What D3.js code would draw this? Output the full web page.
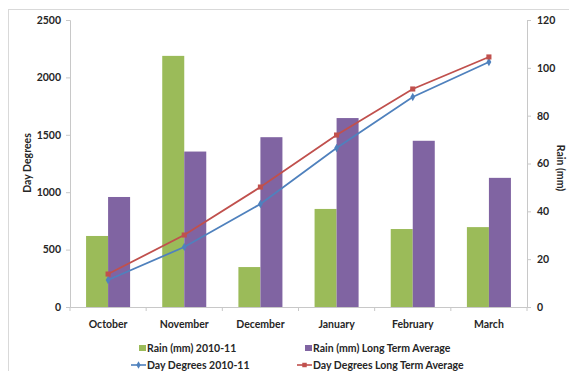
<!DOCTYPE html>
<html>
<head>
<meta charset="utf-8">
<script src="https://cdn.jsdelivr.net/npm/d3@7"></script>
<style>
  html, body { margin: 0; padding: 0; background: #fff; overflow: hidden; }
  svg { display: block; }
  text { font-family: Lato, "Open Sans", sans-serif; font-weight: bold; fill: #262626; }
</style>
</head>
<body>
<svg id="chart" width="569" height="371"></svg>
<script>
const categories = ["October", "November", "December", "January", "February", "March"];
const rain2010 = [29.7, 105, 16.7, 41, 32.6, 33.4];
const rainLTA = [46, 65, 71, 79, 69.5, 54];
const dd2010 = [235, 523, 897, 1385, 1829, 2134];
const ddLTA = [287, 627, 1045, 1498, 1899, 2178];
const leftTicks = [0, 500, 1000, 1500, 2000, 2500];
const rightTicks = [0, 20, 40, 60, 80, 100, 120];
const seriesNames = ["Rain (mm) 2010-11", "Rain (mm) Long Term Average", "Day Degrees 2010-11", "Day Degrees Long Term Average"];
const colors = ["#9BBB59", "#8064A2", "#4F81BD", "#C0504D"];

const svg = d3.select("#chart");
const m = { left: 70, right: 527, top: 20, bottom: 307 };
const axisColor = "#c8c8c8";

// chart border
svg.append("rect").attr("x", 8.5).attr("y", 9.5).attr("width", 700).attr("height", 500)
  .attr("fill", "none").attr("stroke", "#d9d9d9");

const x0 = d3.scaleBand().domain(categories).range([m.left, m.right]).padding(0);
const x1 = d3.scaleBand().domain([0, 1]).range([0, x0.bandwidth()]).paddingInner(0).paddingOuter(0.73);
const yL = d3.scaleLinear().domain([0, 2500]).range([m.bottom, m.top]);
const yR = d3.scaleLinear().domain([0, 120]).range([m.bottom, m.top]);

// bars
const barSeries = [rain2010, rainLTA];
barSeries.forEach((vals, si) => {
  svg.append("g").selectAll("rect").data(vals).join("rect")
    .attr("x", (d, i) => x0(categories[i]) + x1(si))
    .attr("width", x1.bandwidth())
    .attr("y", d => yR(d))
    .attr("height", d => m.bottom - yR(d))
    .attr("fill", colors[si]);
});

// axes
const gL = svg.append("g").attr("transform", `translate(${m.left},0)`)
  .call(d3.axisLeft(yL).tickValues(leftTicks).tickSize(4).tickPadding(5).tickFormat(d3.format("d")));
const gR = svg.append("g").attr("transform", `translate(${m.right},0)`)
  .call(d3.axisRight(yR).tickValues(rightTicks).tickSize(4).tickPadding(6).tickFormat(d3.format("d")));
const gB = svg.append("g").attr("transform", `translate(0,${m.bottom})`)
  .call(d3.axisBottom(x0).tickSize(0).tickPadding(14));
// boundary ticks on category axis
const bounds = categories.map(c => x0(c)).concat([x0.range()[1]]);
svg.append("g").selectAll("line").data(bounds).join("line")
  .attr("x1", d => d).attr("x2", d => d).attr("y1", m.bottom).attr("y2", m.bottom + 4)
  .attr("stroke", axisColor);

[gL, gR, gB].forEach(g => {
  g.select(".domain").attr("stroke", axisColor);
  g.selectAll(".tick line").attr("stroke", axisColor);
  g.selectAll("text").attr("font-size", 10.5).attr("fill", "#262626")
    .attr("font-family", "Lato, sans-serif").attr("font-weight", "bold");
});

// lines
const lineGen = d3.line().x((d, i) => x0(categories[i]) + x0.bandwidth() / 2).y(d => yL(d));
const lineSeries = [dd2010, ddLTA];
lineSeries.forEach((vals, si) => {
  const c = colors[si + 2];
  svg.append("path").datum(vals).attr("d", lineGen)
    .attr("fill", "none").attr("stroke", c).attr("stroke-width", 1.8);
  const sym = si === 0 ? d3.symbolDiamond : d3.symbolSquare;
  const sz = si === 0 ? 20 : 26;
  svg.append("g").selectAll("path").data(vals).join("path")
    .attr("transform", (d, i) => `translate(${x0(categories[i]) + x0.bandwidth() / 2},${yL(d)})`)
    .attr("d", d3.symbol().type(sym).size(sz))
    .attr("fill", c);
});

// axis titles
svg.append("text").attr("transform", "translate(31,163) rotate(-90)")
  .attr("text-anchor", "middle").attr("font-size", 10.5).text("Day Degrees");
svg.append("text").attr("transform", "translate(557,168) rotate(90)")
  .attr("text-anchor", "middle").attr("font-size", 10.5).text("Rain (mm)");

// legend
const legendPos = [
  { x: 131, y: 348 }, { x: 297, y: 348 }, { x: 131, y: 365 }, { x: 297, y: 365 }
];
seriesNames.forEach((name, i) => {
  const p = legendPos[i];
  const g = svg.append("g").attr("transform", `translate(${p.x},${p.y})`);
  if (i < 2) {
    g.append("rect").attr("x", 8).attr("y", -3).attr("width", 7).attr("height", 6).attr("fill", colors[i]);
  } else {
    g.append("line").attr("x1", 0).attr("x2", 15).attr("y1", 0).attr("y2", 0)
      .attr("stroke", colors[i]).attr("stroke-width", 1.6);
    g.append("path").attr("transform", "translate(7.5,0)")
      .attr("d", d3.symbol().type(i === 2 ? d3.symbolDiamond : d3.symbolSquare).size(i === 2 ? 16 : 20))
      .attr("fill", colors[i]);
  }
  g.append("text").attr("x", 16).attr("y", 0).attr("dy", "0.35em").attr("font-size", 10.5).text(name);
});
</script>
</body>
</html>
